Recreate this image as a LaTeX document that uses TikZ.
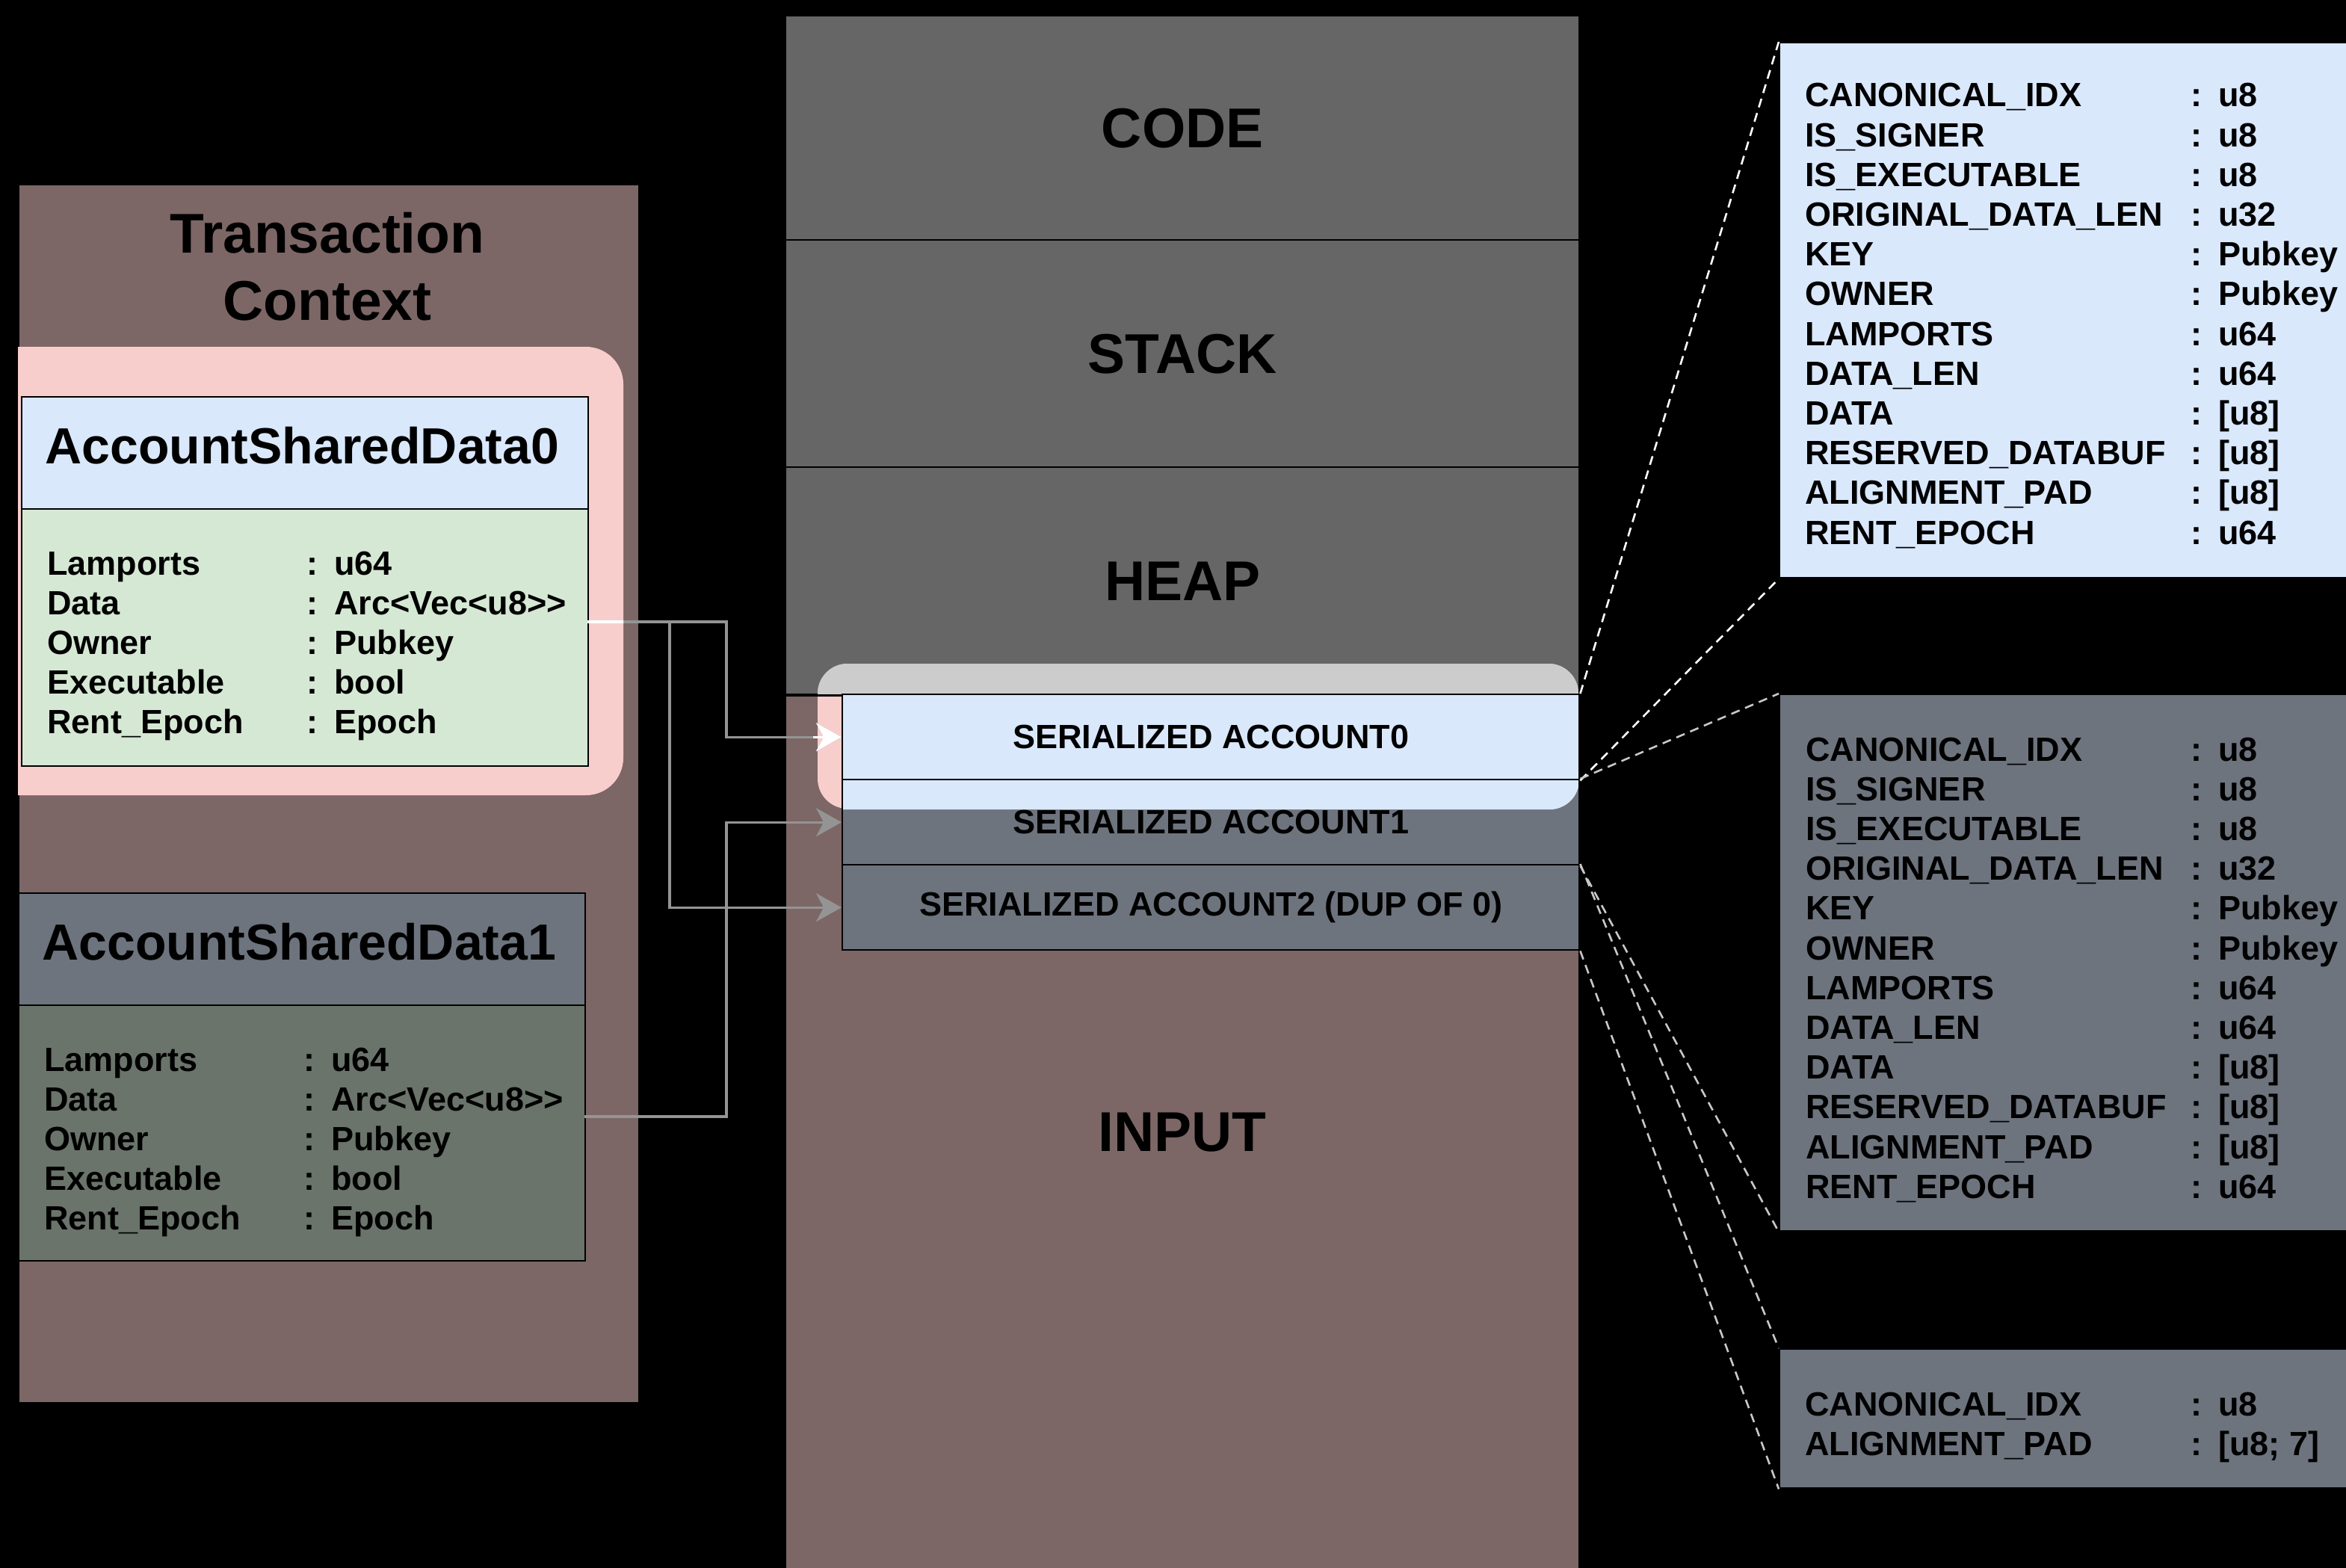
\documentclass[tikz,border=0pt]{standalone}
\usepackage{fontspec}
\setmainfont{Liberation Sans}
\usepackage{tikz}
\usetikzlibrary{arrows.meta, positioning}
\definecolor{ctxbrown}{HTML}{7C6766}
\definecolor{codegrey}{HTML}{666666}
\definecolor{dimslate}{HTML}{6D747E}
\definecolor{dimgreen}{HTML}{6A746A}
\definecolor{hlblue}{HTML}{DAE8FC}
\definecolor{hlgreen}{HTML}{D5E8D4}
\definecolor{hlpink}{HTML}{F8CECC}
\definecolor{hlgrey}{HTML}{CCCCCC}
\definecolor{wiregrey}{HTML}{949494}
\definecolor{dashgrey}{HTML}{C8C8C8}

\begin{document}
\begin{tikzpicture}[
    x=1pt, y=-1pt,
    every node/.style={font=\bfseries},
    region/.style={rectangle, draw=black, line width=1.2pt, anchor=north west, inner sep=0pt, font=\fontsize{37.5}{46}\selectfont\bfseries},
    slot/.style={region, minimum width=493pt, minimum height=57pt, font=\fontsize{22.5}{27}\selectfont\bfseries},
    zoombox/.style={region, minimum width=390pt},
    heading/.style={anchor=base west, inner sep=0pt, font=\fontsize{34}{40}\selectfont\bfseries},
    fields/.style={anchor=base west, inner sep=0pt, font=\fontsize{22.5}{26.6}\selectfont\bfseries},
    wire/.style={-{Stealth[length=17pt, width=19pt, inset=5pt]}, draw=wiregrey, line width=1.6pt},
    zoomline/.style={dash pattern=on 6pt off 4pt, line width=1.3pt}
]
\path[use as bounding box, fill=black] (0,0) rectangle (1569.5,1049);

% --- Transaction context ---
\node[region, fill=ctxbrown, minimum width=415pt, minimum height=815pt] (ctx) at (12,123) {};
\node[align=center, anchor=base, font=\fontsize{37.5}{45}\selectfont\bfseries] (ctxtitle) at (219,214) {Transaction\\Context};
\begin{scope}
    \clip (ctx.north west) rectangle (ctx.south east);
    \fill[hlpink, rounded corners=25pt] (-20,232) rectangle (417,532);
\end{scope}

\node[region, fill=hlblue, minimum width=379pt, minimum height=75pt] (asd0h) at (14,265) {};
\node[heading] (asd0name) at (30,310) {AccountSharedData0};
\node[region, fill=hlgreen, minimum width=379pt, minimum height=172pt] (asd0b) at (14,340) {};
\node[fields] (asd0f) at (31.5,384.5) {\begin{tabular}[t]{@{}p{173.5pt}@{}l@{\hspace{11pt}}l@{}}
Lamports & : & u64\\ Data & : & Arc<Vec<u8>{}>\\ Owner & : & Pubkey\\ Executable & : & bool\\ Rent\_Epoch & : & Epoch
\end{tabular}};

\node[region, fill=dimslate, minimum width=379pt, minimum height=75pt] (asd1h) at (12,597) {};
\node[heading] (asd1name) at (28,642) {AccountSharedData1};
\node[region, fill=dimgreen, minimum width=379pt, minimum height=171pt] (asd1b) at (12,672) {};
\node[fields] (asd1f) at (29.5,716.5) {\begin{tabular}[t]{@{}p{173.5pt}@{}l@{\hspace{11pt}}l@{}}
Lamports & : & u64\\ Data & : & Arc<Vec<u8>{}>\\ Owner & : & Pubkey\\ Executable & : & bool\\ Rent\_Epoch & : & Epoch
\end{tabular}};

% --- Memory regions ---
\node[region, fill=codegrey, minimum width=531pt, minimum height=150pt] (code) at (525,10) {CODE};
\node[region, fill=codegrey, minimum width=531pt, minimum height=152pt] (stack) at (525,160) {STACK};
\node[region, fill=codegrey, minimum width=531pt, minimum height=152pt] (heap) at (525,312) {HEAP};
\node[region, fill=ctxbrown, minimum width=531pt, minimum height=586pt] (input) at (525,464) {INPUT};

\fill[hlpink, rounded corners=20pt] (547,444) rectangle (1056,541);
\begin{scope}
    \clip (heap.north west) rectangle (heap.south east);
    \fill[hlgrey, rounded corners=20pt] (547,444) rectangle (1056,541);
\end{scope}
\draw[line width=1.2pt] (heap.south west) -- (heap.south east);

\node[slot, fill=hlblue] (acc0) at (563,464) {SERIALIZED ACCOUNT0};
\node[slot, fill=dimslate, path picture={\fill[hlblue, rounded corners=20pt] ([xshift=-20pt, yshift=30pt]path picture bounding box.north west) rectangle ([yshift=-20pt]path picture bounding box.north east);}] (acc1) at (563,521) {SERIALIZED ACCOUNT1};
\node[slot, fill=dimslate] (acc2) at (563,578) {SERIALIZED ACCOUNT2 (DUP OF 0)};

% --- Serialized layouts ---
\node[zoombox, fill=hlblue, minimum height=358pt] (boxa) at (1190,28) {};
\node[fields] (boxaf) at (1207.5,71.5) {\begin{tabular}[t]{@{}p{258pt}@{}l@{\hspace{11pt}}l@{}}
CANONICAL\_IDX & : & u8\\ IS\_SIGNER & : & u8\\ IS\_EXECUTABLE & : & u8\\ ORIGINAL\_DATA\_LEN & : & u32\\
KEY & : & Pubkey\\ OWNER & : & Pubkey\\ LAMPORTS & : & u64\\ DATA\_LEN & : & u64\\ DATA & : & [u8]\\
RESERVED\_DATABUF & : & [u8]\\ ALIGNMENT\_PAD & : & [u8]\\ RENT\_EPOCH & : & u64
\end{tabular}};

\node[zoombox, fill=dimslate, minimum height=359pt] (boxb) at (1190,464) {};
\node[fields] (boxbf) at (1208,509) {\begin{tabular}[t]{@{}p{257.5pt}@{}l@{\hspace{11pt}}l@{}}
CANONICAL\_IDX & : & u8\\ IS\_SIGNER & : & u8\\ IS\_EXECUTABLE & : & u8\\ ORIGINAL\_DATA\_LEN & : & u32\\
KEY & : & Pubkey\\ OWNER & : & Pubkey\\ LAMPORTS & : & u64\\ DATA\_LEN & : & u64\\ DATA & : & [u8]\\
RESERVED\_DATABUF & : & [u8]\\ ALIGNMENT\_PAD & : & [u8]\\ RENT\_EPOCH & : & u64
\end{tabular}};

\node[zoombox, fill=dimslate, minimum height=93pt] (boxc) at (1190,902) {};
\node[fields] (boxcf) at (1207.5,947) {\begin{tabular}[t]{@{}p{258pt}@{}l@{\hspace{11pt}}l@{}}
CANONICAL\_IDX & : & u8\\ ALIGNMENT\_PAD & : & [u8; 7]
\end{tabular}};

\draw[zoomline, white] (acc0.north east) -- (boxa.north west);
\draw[zoomline, white] (acc0.south east) -- (boxa.south west);
\draw[zoomline, dashgrey] (acc1.north east) -- (boxb.north west);
\draw[zoomline, dashgrey] (acc1.south east) -- (boxb.south west);
\draw[zoomline, dashgrey] (acc2.north east) -- (boxc.north west);
\draw[zoomline, dashgrey] (acc2.south east) -- (boxc.south west);

% --- Account wiring ---
\coordinate (data0) at (393,416);
\coordinate (data1) at (391,747);
\draw[wire] (data0) -- ++(93,0) |- (acc0.west);
\draw[wire] (data0) -- ++(55,0) |- (acc2.west);
\draw[wire] (data1) -- ++(95,0) |- (acc1.west);
\begin{scope}
    \clip (393,232) rectangle (417,532) (544,444) rectangle (563,541);
    \draw[wire, white] (data0) -- ++(93,0) |- (acc0.west);
    \draw[wire, white] (data0) -- ++(55,0) |- (acc2.west);
\end{scope}
\end{tikzpicture}
\end{document}
